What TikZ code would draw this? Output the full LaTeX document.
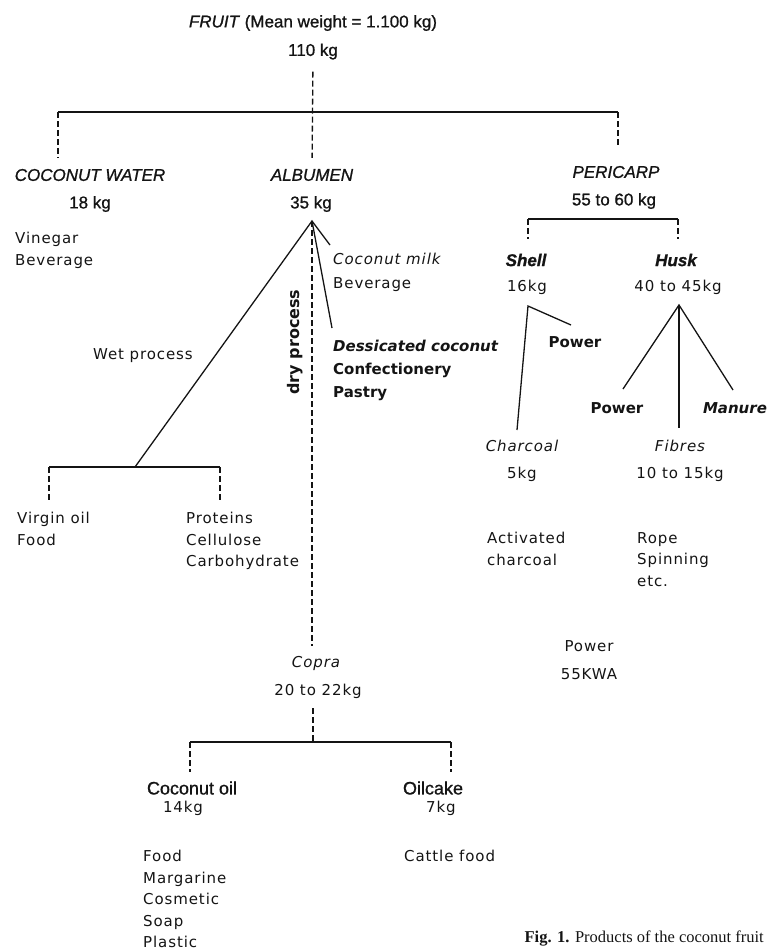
\documentclass[tikz,border=0pt]{standalone}
\usepackage{fontspec}
\usetikzlibrary{positioning}
\newfontfamily\helvfam[FakeBold=1]{Liberation Sans}
\newfontfamily\plotfam[LetterSpace=6]{DejaVu Sans}
\newfontfamily\plotbfam{DejaVu Sans}
\newfontfamily\serffam{Liberation Serif}
\definecolor{ink}{HTML}{141414}
\tikzset{
  head/.style={inner sep=0pt,text=ink,font=\helvfam\fontsize{17}{20}\selectfont},
  note/.style={inner sep=0pt,text=ink,align=left,font=\plotfam\fontsize{15}{21.5}\selectfont},
  bnote/.style={note,font=\plotbfam\bfseries\fontsize{15}{22.5}\selectfont},
  link/.style={ink,line width=1.3pt},
  brace/.style={ink,line width=2pt},
  drop/.style={ink,line width=1.3pt,dash pattern=on 6pt off 3pt},
}

\begin{document}
\begin{tikzpicture}[x=1pt,y=-1pt]
\useasboundingbox (0,0) rectangle (767,951);
% fruit and first split
\node[head] (fruit) at (313,23) {\textit{FRUIT} (Mean weight = 1.100 kg)};
\node[head] (total) at (313,51.5) {110 kg};
\node[head] (water) at (90,175) {\itshape COCONUT WATER};
\node[head] (waterkg) at (90,204) {18 kg};
\node[head] (albumen) at (312,175) {\itshape ALBUMEN};
\node[head] (albkg) at (311,204) {35 kg};
\node[head] (pericarp) at (616,172) {\itshape PERICARP};
\node[head] (perikg) at (614,201) {55 to 60 kg};
\node[note,anchor=north west] (wateruse) at (15,232) {Vinegar\\Beverage};

\coordinate (barL) at (58,112);
\coordinate (barR) at (618,112);
\draw[brace] (barL) -- (barR);
\draw[drop,shorten <=12pt,shorten >=11pt] (total.south) -- (albumen.north);
\draw[drop,shorten >=11pt] (barL) -- (barL |- water.north);
\draw[drop,shorten >=20pt] (barR) -- (barR |- pericarp.north);

% pericarp
\node[head] (shell) at (526,260) {\bfseries\itshape Shell};
\node[head] (husk) at (676,260) {\bfseries\itshape Husk};
\node[note] (shellkg) at (527,287) {16kg};
\node[note] (huskkg) at (678,287) {40 to 45kg};
\coordinate (pL) at (528,219);
\coordinate (pR) at (678,219);
\draw[brace] (pL) -- (pR);
\draw[drop,shorten >=15pt] (pL) -- (pL |- shell.north);
\draw[drop,shorten >=15pt] (pR) -- (pR |- husk.north);

\node[bnote] (spower) at (575,342) {Power};
\node[note] (charcoal) at (522,446) {\itshape Charcoal};
\node[note] (charkg) at (522,474) {5kg};
\node[note,anchor=north west] (charuse) at (487,532) {Activated\\charcoal};
\coordinate (sTop) at (528,306);
\coordinate (sPow) at (571,325);
\coordinate (sChar) at (517,430);
\draw[link] (sChar) -- (sTop) -- (sPow);

\node[bnote] (hpower) at (617,408) {Power};
\node[bnote] (manure) at (735,408) {\itshape Manure};
\node[note] (fibres) at (680,446) {\itshape Fibres};
\node[note] (fibkg) at (680,474) {10 to 15kg};
\node[note,anchor=north west] (fibuse) at (637,532) {Rope\\Spinning\\etc.};
\coordinate (hTop) at (679,305);
\coordinate (hPow) at (623,389);
\coordinate (hFib) at (679,428);
\coordinate (hMan) at (733,390);
\draw[link] (hPow) -- (hTop) -- (hMan);
\draw[link] (hTop) -- (hFib);

\node[note] (power) at (589,646) {Power};
\node[note] (kwa) at (589,674) {55KWA};

% albumen
\node[note,anchor=north west] (milk) at (333,253) {\itshape Coconut milk};
\node[note,anchor=north west] (milkuse) at (333,277) {Beverage};
\node[bnote,anchor=north west] (dess) at (333,340) {\itshape Dessicated coconut};
\node[bnote,anchor=north west] (dessuse) at (333,363) {Confectionery\\Pastry};
\node[note,anchor=north west] (wet) at (93,348) {Wet process};
\node[bnote,rotate=90,font=\plotbfam\bfseries\fontsize{16}{18}\selectfont] (dry) at (295,342) {dry process};
\coordinate (aTop) at (312,221);
\coordinate (aMilk) at (330,245);
\coordinate (aDess) at (332,328);
\coordinate (wBar) at (135,467);
\draw[link] (wBar) -- (aTop) -- (aMilk);
\draw[link] (aTop) -- (aDess);

\node[note,anchor=north west] (virgin) at (17,512) {Virgin oil\\Food};
\node[note,anchor=north west] (protein) at (186,512) {Proteins\\Cellulose\\Carbohydrate};
\coordinate (wL) at (49,467);
\coordinate (wR) at (220,467);
\draw[brace] (wL) -- (wR);
\draw[drop,shorten >=10pt] (wL) -- (wL |- virgin.north);
\draw[drop,shorten >=10pt] (wR) -- (wR |- protein.north);

% copra
\node[note] (copra) at (316,663) {\itshape Copra};
\node[note] (copkg) at (318,691) {20 to 22kg};
\draw[drop,shorten >=10pt] (aTop) -- (aTop |- copra.north);
\coordinate (cBar) at (313,742);
\coordinate (cL) at (190,742);
\coordinate (cR) at (451,742);
\draw[drop,shorten <=10pt] (copkg.south -| cBar) -- (cBar);
\draw[brace] (cL) -- (cR);

\node[head,font=\helvfam\fontsize{18}{20}\selectfont] (coil) at (192,788) {Coconut oil};
\node[head,font=\helvfam\fontsize{18}{20}\selectfont] (cake) at (433,788) {Oilcake};
\node[note] (coilkg) at (183,808) {14kg};
\node[note] (cakekg) at (441,808) {7kg};
\draw[drop,shorten >=9pt] (cL) -- (cL |- coil.north);
\draw[drop,shorten >=9pt] (cR) -- (cR |- cake.north);
\node[note,anchor=north west] (coiluse) at (143,850) {Food\\Margarine\\Cosmetic\\Soap\\Plastic};
\node[note,anchor=north west] (cakeuse) at (404,850) {Cattle food};

\node[inner sep=0pt,anchor=east,text=ink,font=\serffam\fontsize{16.5}{18}\selectfont] (caption) at (764,938) {\textbf{Fig. 1.} Products of the coconut fruit};
\end{tikzpicture}
\end{document}
